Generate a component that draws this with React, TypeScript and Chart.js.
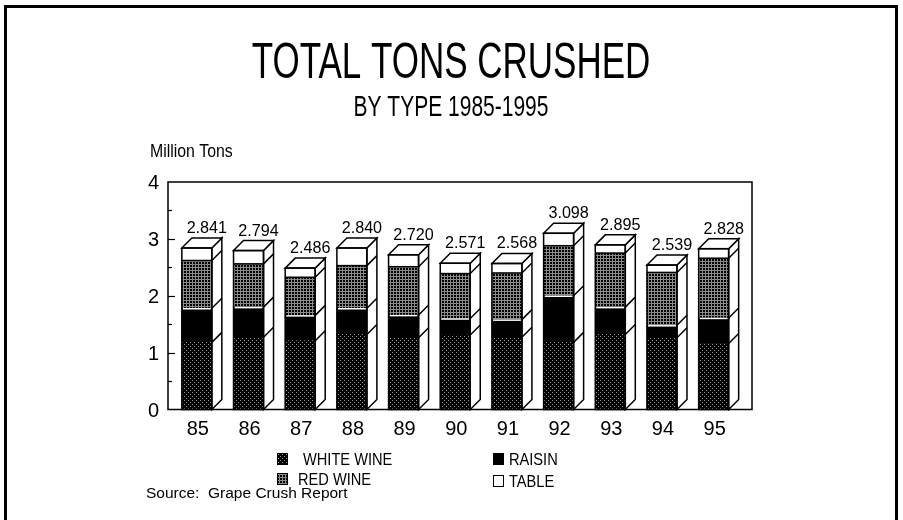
import { useEffect, useRef } from "react";
import { Chart, registerables } from "chart.js";

Chart.register(...registerables);

const years = ["85", "86", "87", "88", "89", "90", "91", "92", "93", "94", "95"];
const whiteWine = [1.18, 1.27, 1.21, 1.32, 1.26, 1.31, 1.27, 1.18, 1.32, 1.26, 1.16];
const raisin = [0.6, 0.53, 0.445, 0.46, 0.4, 0.29, 0.31, 0.82, 0.48, 0.22, 0.45];
const redWine = [0.84, 0.76, 0.67, 0.75, 0.85, 0.79, 0.82, 0.88, 0.95, 0.93, 1.05];
const table = [0.221, 0.234, 0.161, 0.31, 0.21, 0.181, 0.168, 0.218, 0.145, 0.129, 0.168];
const totals = ["2.841", "2.794", "2.486", "2.840", "2.720", "2.571", "2.568", "3.098", "2.895", "2.539", "2.828"];
const yTicks = [0, 1, 2, 3, 4];
const title = "TOTAL TONS CRUSHED";
const subtitle = "BY TYPE 1985-1995";
const yTitle = "Million Tons";
const source = "Source:  Grape Crush Report";
const seriesNames = ["WHITE WINE", "RAISIN", "RED WINE", "TABLE"];

const FONT = '"Liberation Sans", Arial, Helvetica, sans-serif';

function makePattern(kind: string): CanvasPattern | string {
  const c = document.createElement("canvas");
  const n = kind === "white" ? 4 : 3;
  c.width = n;
  c.height = n;
  const g = c.getContext("2d")!;
  g.fillStyle = "#000";
  g.fillRect(0, 0, n, n);
  if (kind === "white") {
    g.fillStyle = "#9a9a9a";
    g.fillRect(0, 0, 1, 1);
    g.fillRect(2, 2, 1, 1);
  } else {
    g.fillStyle = "#8c8c8c";
    g.fillRect(0, 0, n, 1);
    g.fillRect(0, 0, 1, n);
  }
  const p = g.createPattern(c, "repeat");
  return p || "#333";
}

function txt(
  ctx: CanvasRenderingContext2D,
  s: string,
  x: number,
  y: number,
  size: number,
  sx: number,
  align: CanvasTextAlign
) {
  ctx.save();
  ctx.font = `${size}px ${FONT}`;
  ctx.fillStyle = "#000";
  ctx.textBaseline = "alphabetic";
  ctx.textAlign = align;
  ctx.translate(x, y);
  ctx.scale(sx, 1);
  ctx.fillText(s, 0, 0);
  ctx.restore();
}

export default function App() {
  const ref = useRef<HTMLCanvasElement | null>(null);

  useEffect(() => {
    const canvas = ref.current;
    if (!canvas) return;
    const whitePat = makePattern("white");
    const redPat = makePattern("red");
    const D = 10;

    const plugin = {
      id: "grapeDecor",
      beforeDraw(chart: any) {
        const ctx = chart.ctx as CanvasRenderingContext2D;
        ctx.save();
        ctx.fillStyle = "#fff";
        ctx.fillRect(0, 0, chart.width, chart.height);
        ctx.restore();
      },
      afterDatasetsDraw(chart: any) {
        const ctx = chart.ctx as CanvasRenderingContext2D;
        const ys = chart.scales.y;
        const ca = chart.chartArea;
        const fl = ca.left - 3;
        const fr = ca.right + 12.5;
        const ft = ys.getPixelForValue(4);
        const fb = ys.getPixelForValue(0);

        ctx.save();
        // outer border
        ctx.strokeStyle = "#000";
        ctx.lineWidth = 3;
        ctx.strokeRect(5.5, 6.5, 891, 600);

        // titles
        txt(ctx, title, 451, 78, 50, 0.7, "center");
        txt(ctx, subtitle, 451, 116, 30, 0.7, "center");
        txt(ctx, yTitle, 150, 157, 18, 0.88, "left");

        // frame
        ctx.lineWidth = 1.5;
        ctx.strokeRect(fl, ft, fr - fl, fb - ft);

        // y ticks
        ctx.lineWidth = 1.2;
        for (let v = 0.5; v < 4; v += 0.5) {
          const py = Math.round(ys.getPixelForValue(v)) + 0.5;
          const len = Number.isInteger(v) ? 7 : 4;
          ctx.beginPath();
          ctx.moveTo(fl, py);
          ctx.lineTo(fl + len, py);
          ctx.stroke();
        }
        yTicks.forEach((v) => {
          txt(ctx, String(v), fl - 9, ys.getPixelForValue(v) + 7, 20, 1, "right");
        });

        // bars 3D decor
        const metas = [0, 1, 2, 3].map((d) => chart.getDatasetMeta(d));
        years.forEach((lab, i) => {
          const els = metas.map((m: any) => m.data[i].getProps(["x", "y", "base", "width"], true));
          const x = els[0].x;
          const w = els[0].width;
          const L = x - w / 2;
          const R = x + w / 2;
          const T = els[3].y;
          const B = els[0].base;
          const b0 = els[0].y;
          const b1 = els[1].y;
          const b2 = els[2].y;

          // white line between raisin and red wine
          ctx.strokeStyle = "#fff";
          ctx.lineWidth = 1.5;
          ctx.beginPath();
          ctx.moveTo(L + 1, b1 + 0.5);
          ctx.lineTo(R - 1, b1 + 0.5);
          ctx.stroke();

          ctx.strokeStyle = "#000";
          ctx.lineWidth = 1.5;
          ctx.beginPath();
          ctx.moveTo(L, b2);
          ctx.lineTo(R, b2);
          ctx.stroke();

          // side face
          ctx.fillStyle = "#fff";
          ctx.beginPath();
          ctx.moveTo(R, T);
          ctx.lineTo(R + D, T - D);
          ctx.lineTo(R + D, B - D);
          ctx.lineTo(R, B);
          ctx.closePath();
          ctx.fill();
          ctx.stroke();
          [b0, b1, b2].forEach((yy) => {
            ctx.beginPath();
            ctx.moveTo(R, yy);
            ctx.lineTo(R + D, yy - D);
            ctx.stroke();
          });

          // top face
          ctx.beginPath();
          ctx.moveTo(L, T);
          ctx.lineTo(L + D, T - D);
          ctx.lineTo(R + D, T - D);
          ctx.lineTo(R, T);
          ctx.closePath();
          ctx.fill();
          ctx.stroke();

          // front outline
          ctx.strokeRect(L, T, w, B - T);

          // value label
          txt(ctx, totals[i], x + 10, T - D - 5, 17, 0.95, "center");
          // category label
          txt(ctx, lab, x + 1, 435, 20, 1, "center");
        });

        // legend
        const boxes: [number, number, any, string, number][] = [
          [277, 453, whitePat, seriesNames[0], 303],
          [493, 453, "#000", seriesNames[1], 509],
          [277, 473, redPat, seriesNames[2], 298],
          [493, 475, "#fff", seriesNames[3], 509],
        ];
        boxes.forEach(([bx, by, fill, name, tx]) => {
          ctx.fillStyle = fill;
          ctx.fillRect(bx, by, 10, 11);
          ctx.strokeStyle = "#000";
          ctx.lineWidth = 1;
          ctx.strokeRect(bx + 0.5, by + 0.5, 10, 11);
          txt(ctx, name, tx, by + 11.5, 17, 0.86, "left");
        });

        txt(ctx, source, 146, 498, 15.5, 1, "left");
        ctx.restore();
      },
    };

    const chart = new Chart(canvas, {
      type: "bar",
      data: {
        labels: years,
        datasets: [
          { label: seriesNames[0], data: whiteWine, backgroundColor: whitePat as any, borderWidth: 0 },
          { label: seriesNames[1], data: raisin, backgroundColor: "#000", borderWidth: 0 },
          { label: seriesNames[2], data: redWine, backgroundColor: redPat as any, borderWidth: 0 },
          { label: seriesNames[3], data: table, backgroundColor: "#fff", borderWidth: 0 },
        ],
      },
      options: {
        responsive: false,
        animation: false,
        devicePixelRatio: 1,
        layout: { padding: { left: 171, right: 163.5, top: 182, bottom: 110.5 } },
        datasets: { bar: { barThickness: 30 } },
        plugins: { legend: { display: false }, title: { display: false }, tooltip: { enabled: false } },
        scales: {
          x: { display: false, stacked: true },
          y: { display: false, stacked: true, min: 0, max: 4 },
        },
      },
      plugins: [plugin],
    });
    return () => chart.destroy();
  }, []);

  return (
    <div style={{ position: "fixed", left: 0, top: 0, width: 903, height: 520, background: "#fff" }}>
      <canvas ref={ref} width={903} height={520} style={{ display: "block", width: 903, height: 520 }} />
    </div>
  );
}
